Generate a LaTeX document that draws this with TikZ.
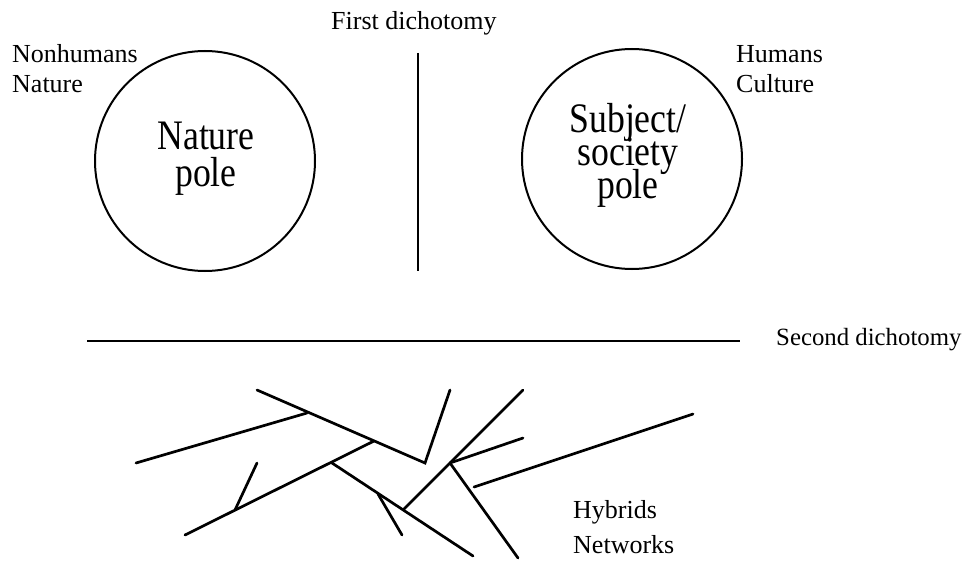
\documentclass[tikz,border=0pt]{standalone}
\usepackage{fontspec}
\setmainfont{Liberation Serif}
\newfontfamily\polefont[FakeStretch=0.85]{Liberation Serif}
\begin{document}
\begin{tikzpicture}[x=1pt,y=-1pt,
  pole/.style={draw,circle,line width=2pt,minimum size=220pt,inner sep=0pt},
  poletext/.style={anchor=base,inner sep=0pt,align=center,
    font={\polefont\fontsize{42}{#1}\selectfont\lineskiplimit=-100pt}},
  label/.style={anchor=base west,inner sep=0pt,font=\fontsize{26}{30}\selectfont},
  divider/.style={line width=2pt},
  web/.style={line width=2.7pt,line cap=round,line join=miter}]
\useasboundingbox (0,0) rectangle (968,561);

% the two poles
\node[pole] (nat) at (205,161) {};
\node[pole] (soc) at (632,159) {};
\node[poletext=37] (natT) at (206,187) {Nature\\pole};
\node[poletext=33] (socT) at (628,199) {Subject/\\society\\pole};

% side labels
\node[label] (nh) at (12,63) {Nonhumans};
\node[label] (nn) at (12,93) {Nature};
\node[label] (hu) at (736,63) {Humans};
\node[label] (cu) at (736,93) {Culture};
\node[label] (fd) at (331,30) {First dichotomy};
\node[label,font=\fontsize{24.8}{30}\selectfont] (sd) at (776,345) {Second dichotomy};
\node[label] (hy) at (573,518) {Hybrids};
\node[label] (nw) at (573,553) {Networks};

% dichotomy lines
\coordinate (v1) at (418,53);
\coordinate (v2) at (418,271);
\coordinate (h1) at (87,341);
\coordinate (h2) at (740,341);
\draw[divider] (v1) -- (v2);
\draw[divider] (h1) -- (h2);

% network of hybrids
\coordinate (a1) at (257,390);
\coordinate (a2) at (307,413);
\coordinate (a3) at (374,441);
\coordinate (a4) at (425,463);
\coordinate (a5) at (450,390);
\coordinate (b1) at (136,463);
\coordinate (c1) at (185,535);
\coordinate (c2) at (332,463);
\coordinate (e1) at (235,510);
\coordinate (e2) at (257,463);
\coordinate (d1) at (378,494);
\coordinate (d2) at (403,510);
\coordinate (d3) at (473,556);
\coordinate (f1) at (402,535);
\coordinate (g1) at (450,463);
\coordinate (g2) at (523,390);
\coordinate (h3) at (523,438);
\coordinate (i1) at (518,558);
\coordinate (j1) at (474,487);
\coordinate (j2) at (693,414);

\draw[web] (a1) -- (a4) -- (a5);
\draw[web] (b1) -- (a2);
\draw[web] (c1) -- (a3);
\draw[web] (e1) -- (e2);
\draw[web] (c2) -- (d3);
\draw[web] (d1) -- (f1);
\draw[web] (d2) -- (g1) -- (g2);
\draw[web] (g1) -- (h3);
\draw[web] (g1) -- (i1);
\draw[web] (j1) -- (j2);
\end{tikzpicture}
\end{document}
